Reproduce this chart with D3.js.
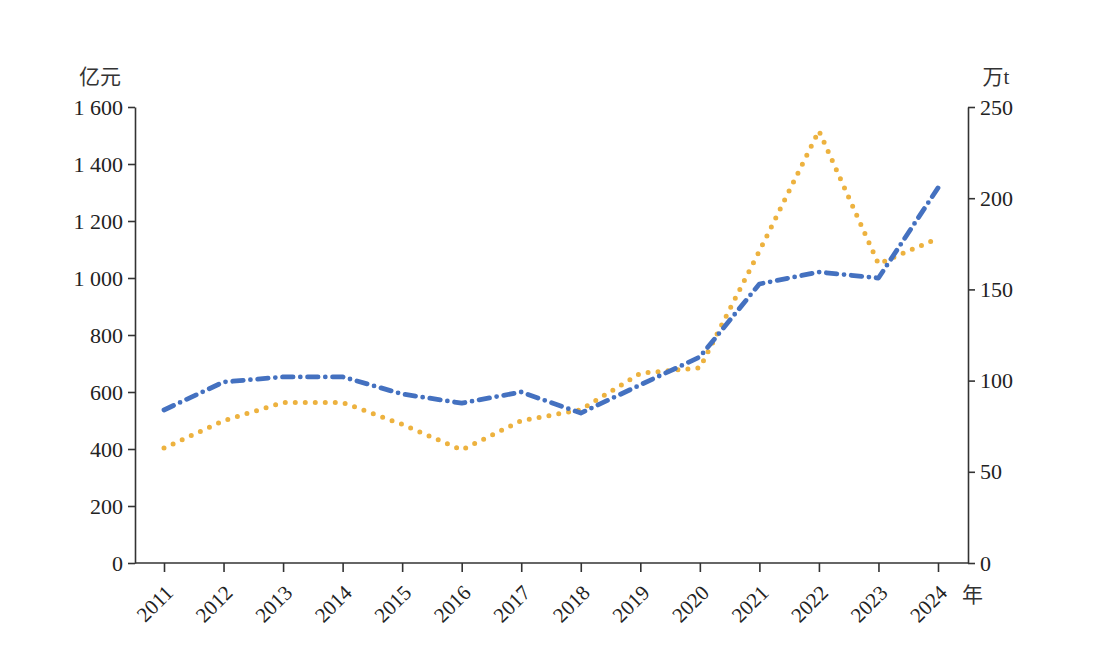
<!DOCTYPE html>
<html><head><meta charset="utf-8">
<script src="https://cdn.jsdelivr.net/npm/d3@7"></script>
<style>body{margin:0;background:#fff}svg{display:block}</style>
</head><body><svg id="c" width="1107" height="663"></svg>
<script>
const years = ["2011","2012","2013","2014","2015","2016","2017","2018","2019","2020","2021","2022","2023","2024"];
const valueYi = [537,635,653,653,593,561,600,526,625,723,979,1021,1000,1316];
const volumeWt = [63,78,88,88,76,62,78,84,104,107,171,237,164,178];
const leftTicks = [0,200,400,600,800,1000,1200,1400,1600];
const rightTicks = [0,50,100,150,200,250];

const svg = d3.select("#c");
const L = 135, R = 968, T = 107, B = 563;
const serif = "'Liberation Serif','DejaVu Serif',serif";
const cjk = "'Noto Sans CJK SC',sans-serif";
const x = d3.scalePoint().domain(years).range([164, 938]);
const yL = d3.scaleLinear().domain([0,1600]).range([B,T]);
const yR = d3.scaleLinear().domain([0,250]).range([B,T]);
const fmt = v => { const s = String(v); return s.length > 3 ? s.slice(0, s.length-3) + " " + s.slice(-3) : s; };

function style(g){
  g.selectAll("path.domain").attr("stroke","#333").attr("stroke-width",1.6);
  g.selectAll(".tick line").attr("stroke","#333").attr("stroke-width",1.6);
  g.selectAll("text").attr("font-family",serif).attr("font-size",22).attr("fill","#222");
}
const gl = svg.append("g").attr("transform",`translate(${L},0)`)
  .call(d3.axisLeft(yL).tickValues(leftTicks).tickFormat(fmt).tickSize(7).tickSizeOuter(0).tickPadding(5));
style(gl);
const gr = svg.append("g").attr("transform",`translate(${R},0)`)
  .call(d3.axisRight(yR).tickValues(rightTicks).tickSize(7).tickSizeOuter(0).tickPadding(5));
style(gr);
const gx = svg.append("g").attr("transform",`translate(0,${B})`)
  .call(d3.axisBottom(x).tickSize(9).tickSizeOuter(0));
gx.select("path.domain").attr("d",`M${L},0H${R}`);
style(gx);
gx.selectAll(".tick text").attr("text-anchor","end").attr("dy",0).attr("y",0)
  .attr("transform","translate(10,31) rotate(-45)").attr("font-size",21);

svg.append("text").attr("x",100).attr("y",84).attr("text-anchor","middle")
  .attr("font-family",cjk).attr("font-size",21).attr("fill","#333").text("亿元");
svg.append("text").attr("x",996).attr("y",84).attr("text-anchor","middle")
  .attr("font-family",cjk).attr("font-size",21).attr("fill","#333")
  .text("万").append("tspan").attr("font-family",serif).text("t");
svg.append("text").attr("x",962).attr("y",602).attr("font-family",cjk)
  .attr("font-size",21).attr("fill","#333").text("年");

const lineL = d3.line().x((d,i)=>x(years[i])).y(d=>yL(d));
const lineR = d3.line().x((d,i)=>x(years[i])).y(d=>yR(d));
svg.append("path").datum(volumeWt).attr("d",lineR).attr("fill","none")
  .attr("stroke","#EDB23F").attr("stroke-width",5).attr("stroke-linecap","round")
  .attr("stroke-linejoin","round").attr("stroke-dasharray","0 10");
svg.append("path").datum(valueYi).attr("d",lineL).attr("fill","none")
  .attr("stroke","#4471C0").attr("stroke-width",4.8).attr("stroke-linecap","round")
  .attr("stroke-linejoin","round").attr("stroke-dasharray","10.5 7.25 0 7.25");
</script></body></html>
